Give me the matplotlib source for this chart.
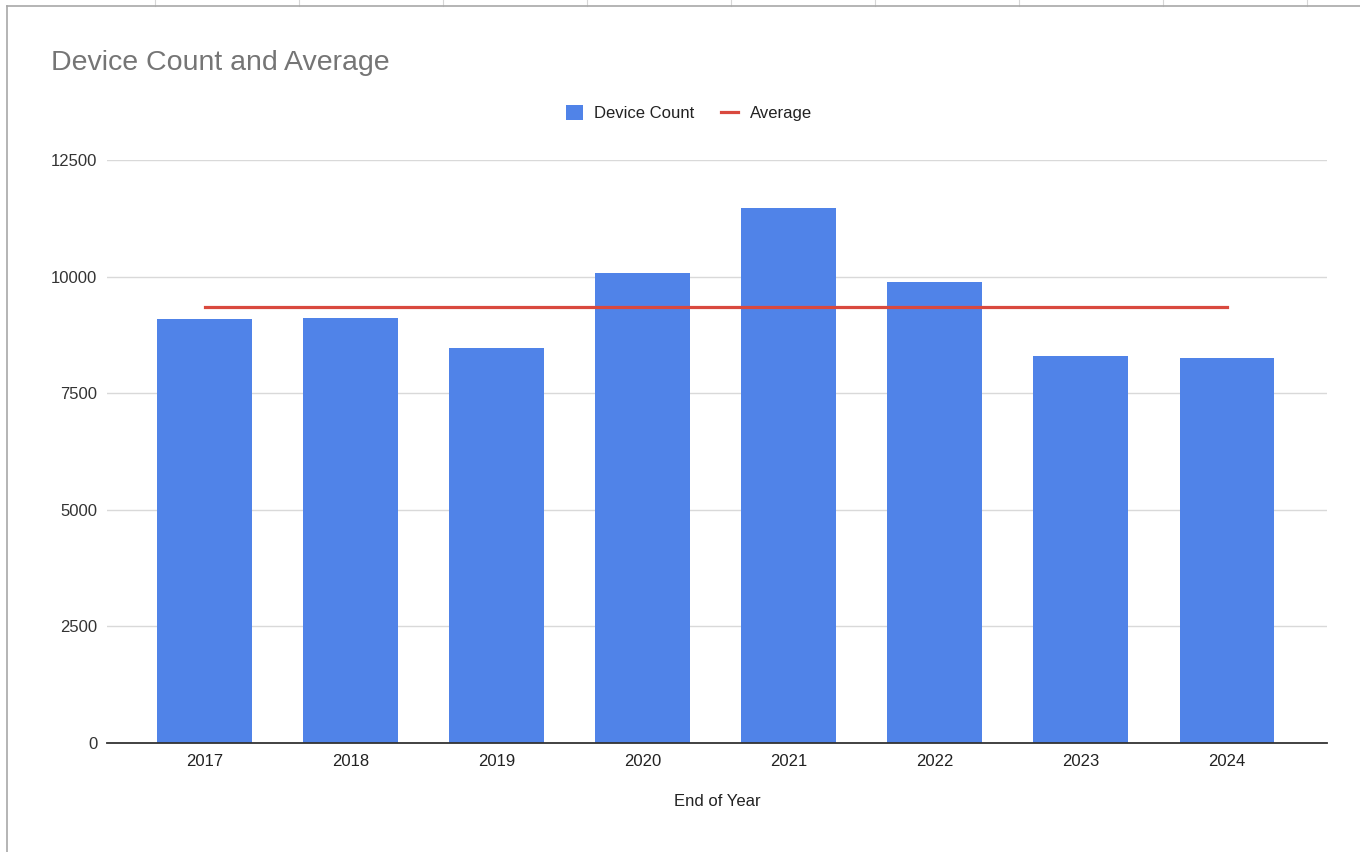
import matplotlib.pyplot as plt
from matplotlib.lines import Line2D

years = ["2017", "2018", "2019", "2020", "2021", "2022", "2023", "2024"]
device_count = [9090, 9110, 8470, 10070, 11470, 9880, 8300, 8260]
average = [9340] * len(years)

plt.rcParams['font.family'] = ['Liberation Sans', 'DejaVu Sans']

W, H = 1360, 852
fig = plt.figure(figsize=(W / 100, H / 100), dpi=100, facecolor="white")

# spreadsheet grid behind the chart
def px(x, y):
    return x / W, 1 - y / H

for cx in [155, 299, 443, 587, 731, 875, 1019, 1163, 1307]:
    (x0, y0), (x1, y1) = px(cx, 0), px(cx, 6)
    fig.add_artist(Line2D([x0, x1], [y0, y1], color="#d6d6d6", lw=0.8))
(x0, y0), (x1, y1) = px(7, 6), px(W, 6)
fig.add_artist(Line2D([x0, x1], [y0, y1], color="#a8a8a8", lw=1.2))
(x0, y0), (x1, y1) = px(7, 6), px(7, H)
fig.add_artist(Line2D([x0, x1], [y0, y1], color="#a8a8a8", lw=1.2))

ax = fig.add_axes([107 / W, 1 - 743 / H, (1327 - 107) / W, (743 - 160) / H])

x = list(range(len(years)))
bars = ax.bar(x, device_count, width=0.65, color="#5083e8", label="Device Count", zorder=2)
line, = ax.plot(x, average, color="#d9493e", lw=2.3, label="Average", zorder=3)

ax.set_xlim(-0.67, 7.685)
ax.set_ylim(0, 12500)
ax.set_yticks([0, 2500, 5000, 7500, 10000, 12500])
ax.set_xticks(x)
ax.set_xticklabels(years)
ax.yaxis.grid(True, color="#d9d9d9", lw=1)
ax.set_axisbelow(True)
for s in ["top", "right", "left"]:
    ax.spines[s].set_visible(False)
ax.spines["bottom"].set_color("#333333")
ax.spines["bottom"].set_linewidth(1.3)
ax.tick_params(axis="both", length=0, labelsize=12, colors="#222222")
ax.tick_params(axis="y", pad=7, labelcolor="#333333")
ax.tick_params(axis="x", pad=8)

ax.set_xlabel("End of Year", fontsize=12, color="#222222", labelpad=18)

fig.text(51 / W, 1 - 63 / H, "Device Count and Average", fontsize=20.5,
         color="#757575", va="center", ha="left")

fig.legend(handles=[bars, line], labels=["Device Count", "Average"],
           loc="center", bbox_to_anchor=(689 / W, 1 - 113 / H), ncol=2,
           frameon=False, fontsize=12, handlelength=1.0, handleheight=1.0,
           columnspacing=1.6, handletextpad=0.7, labelcolor="#222222")

fig.savefig("out.png", dpi=100, facecolor="white")
